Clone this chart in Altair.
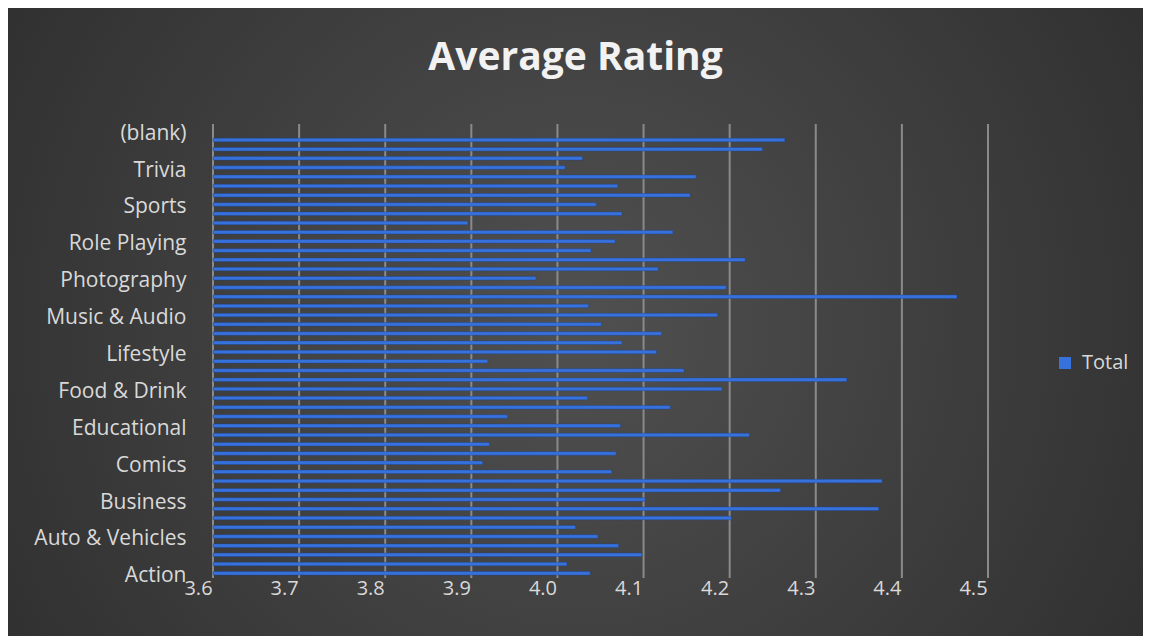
import altair as alt
import pandas as pd

# Categories from bottom (Action) to top ((blank))
categories = [
    "Action", "Adventure", "Arcade", "Art & Design", "Auto & Vehicles", "Beauty",
    "Board", "Books & Reference", "Business", "Card", "Casino", "Casual", "Comics",
    "Communication", "Dating", "Education", "Educational", "Entertainment", "Events",
    "Finance", "Food & Drink", "Health & Fitness", "House & Home", "Libraries & Demo",
    "Lifestyle", "Maps & Navigation", "Medical", "Music", "Music & Audio",
    "News & Magazines", "Parenting", "Personalization", "Photography", "Productivity",
    "Puzzle", "Racing", "Role Playing", "Shopping", "Simulation", "Social", "Sports",
    "Strategy", "Tools", "Travel & Local", "Trivia", "Video Players & Editors",
    "Weather", "Word", "(blank)",
]
ratings = [
    4.038, 4.011, 4.098, 4.071, 4.047, 4.021, 4.202, 4.373, 4.102, 4.259, 4.377,
    4.063, 3.913, 4.068, 3.921, 4.223, 4.073, 3.942, 4.131, 4.035, 4.191, 4.336,
    4.147, 3.919, 4.115, 4.075, 4.121, 4.051, 4.186, 4.036, 4.464, 4.196, 3.975,
    4.117, 4.218, 4.039, 4.067, 4.134, 3.896, 4.075, 4.045, 4.154, 4.070, 4.161,
    4.009, 4.029, 4.238, 4.264, None,
]
series = ["Total"] * len(categories)
x_ticks = [3.6, 3.7, 3.8, 3.9, 4.0, 4.1, 4.2, 4.3, 4.4, 4.5]
shown_labels = categories[::4]
title_text = "Average Rating"

df = pd.DataFrame({"category": categories, "rating": ratings, "series": series})
order_top_down = categories[::-1]

W, H = 775, 456
PL, PT = 205, 116
PR = 1135 - PL - W
PB = 628 - PT - H
FONT = "Open Sans"
BLUE = "#3771dc"
LABEL = "#d9d9d9"
xscale = alt.Scale(domain=[3.6, 4.5], nice=False, zero=False)
xaxis = alt.Axis(title=None, values=x_ticks, format=".1f", grid=False,
                 ticks=False, domain=False, zindex=1, labelFlush=False,
                 labelFont=FONT, labelFontSize=20, labelColor=LABEL,
                 labelPadding=-2, labelOffset=-15)

bg = alt.Chart(pd.DataFrame({"a": [0]})).mark_rect(
    color=alt.Gradient(
        gradient="radial",
        stops=[alt.GradientStop(color="#505050", offset=0),
               alt.GradientStop(color="#272727", offset=1)],
        x1=0.5, y1=0.5, r1=0, x2=0.5, y2=0.5, r2=0.75,
    )
).encode(
    x=alt.value(-PL), x2=alt.value(W + PR),
    y=alt.value(-PT), y2=alt.value(H + PB),
)

grid = alt.Chart(pd.DataFrame({"rating": x_ticks})).mark_rule(
    color="#8a8a8a", strokeWidth=2
).encode(
    x=alt.X("rating:Q", scale=xscale, axis=xaxis),
    y=alt.value(0), y2=alt.value(H - 2),
)

bars = alt.Chart(df).mark_bar(height=3.5, stroke="#1d4390", strokeWidth=0.4).encode(
    y=alt.Y("category:N", sort=order_top_down,
            scale=alt.Scale(domain=order_top_down, paddingInner=0, paddingOuter=0.227),
            axis=alt.Axis(title=None, values=shown_labels, ticks=False, domain=False,
                          labelFont=FONT, labelFontSize=21, labelColor=LABEL,
                          labelPadding=27, labelOffset=3, grid=False, zindex=1)),
    x=alt.X("rating:Q", scale=xscale, axis=xaxis),
    x2=alt.datum(3.6),
    color=alt.Color("series:N",
                    scale=alt.Scale(domain=["Total"], range=[BLUE]),
                    legend=alt.Legend(title=None, orient="none", legendX=842, legendY=229,
                                      symbolType="square", symbolSize=144,
                                      symbolStrokeWidth=0, zindex=1,
                                      labelFont=FONT, labelFontSize=20,
                                      labelColor=LABEL, labelOffset=7)),
)

title = alt.Chart(pd.DataFrame({"t": [title_text]})).mark_text(
    font=FONT, fontSize=39, fontWeight="bold", color="#f2f2f2",
    align="center", baseline="middle",
).encode(
    text="t:N",
    x=alt.value((W + PL + PR) / 2 - PL),
    y=alt.value(58 - 8 - PT),
)

chart = alt.layer(bg, grid, bars, title).properties(
    width=W, height=H,
    autosize=alt.AutoSizeParams(type="none"),
    padding={"left": PL, "top": PT, "right": PR, "bottom": PB},
    background="#333333",
).configure_view(stroke=None)

chart.save("out.html", embed_options={"renderer": "svg", "actions": False})
